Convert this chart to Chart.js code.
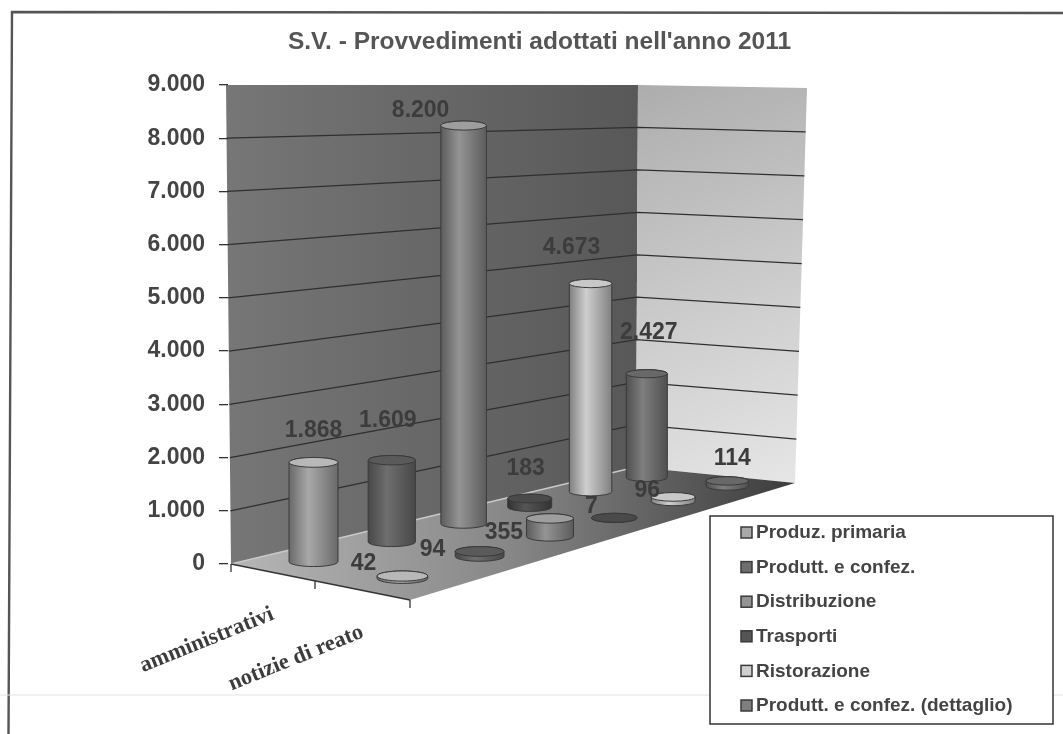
<!DOCTYPE html>
<html>
<head>
<meta charset="utf-8">
<title>S.V. - Provvedimenti adottati</title>
<script src="https://cdn.jsdelivr.net/npm/chart.js@4"></script>
<style>
  html, body { margin: 0; background: #fff; }
  canvas { display: block; filter: blur(0.7px); }
</style>
</head>
<body>
<canvas id="chart" width="1063" height="734"></canvas>
<script>
const chartTitle = "S.V. - Provvedimenti adottati nell'anno 2011";
const categories = ['amministrativi', 'notizie di reato'];
const seriesNames = ['Produz. primaria', 'Produtt. e confez.', 'Distribuzione', 'Trasporti', 'Ristorazione', 'Produtt. e confez. (dettaglio)'];
const produzPrimaria = [1868, 42];
const produttConfez = [1609, 94];
const distribuzione = [8200, 355];
const trasporti = [183, 7];
const ristorazione = [4673, 96];
const produttDettaglio = [2427, 114];
const seriesValues = [produzPrimaria, produttConfez, distribuzione, trasporti, ristorazione, produttDettaglio];

// greys of the scan: edge, light part of the side, top of the cylinder
const shades = [
  ['#6a6a6a', '#a8a8a8', '#b8b8b8'],
  ['#484848', '#6e6e6e', '#5a5a5a'],
  ['#5c5c5c', '#949494', '#9e9e9e'],
  ['#333333', '#555555', '#4a4a4a'],
  ['#808080', '#cfcfcf', '#c8c8c8'],
  ['#505050', '#7e7e7e', '#686868']
];

// where the 3D box sits on the page
const floor = { p00: [231, 564], p10: [410, 600], p11: [795, 483], p01: [636, 467] };
const wallTop = { left: [226, 85], corner: [638, 85], right: [807, 88] };
// hand placed data labels in the original, offset from top of cylinder
const labelShift = [
  [[0, -32], [-39, -12]],
  [[-4, -40], [-47, -2]],
  [[-43, -15], [-46, 14]],
  [[-4, -30], [-23, -11]],
  [[-19, -36], [-26, -6]],
  [[2, -41], [5, -22]]
];

const fmt = v => String(v).replace(/\B(?=(\d{3})+$)/g, '.');
const lerp = (a, b, t) => [a[0] + (b[0] - a[0]) * t, a[1] + (b[1] - a[1]) * t];

// unit square -> floor quad
function makeProjection(q) {
  const dx1 = q.p10[0] - q.p11[0], dx2 = q.p01[0] - q.p11[0], sx = q.p00[0] - q.p10[0] + q.p11[0] - q.p01[0];
  const dy1 = q.p10[1] - q.p11[1], dy2 = q.p01[1] - q.p11[1], sy = q.p00[1] - q.p10[1] + q.p11[1] - q.p01[1];
  const den = dx1 * dy2 - dx2 * dy1;
  const g = (sx * dy2 - dx2 * sy) / den, h = (dx1 * sy - sx * dy1) / den;
  const a = q.p10[0] - q.p00[0] + g * q.p10[0], b = q.p01[0] - q.p00[0] + h * q.p01[0];
  const d = q.p10[1] - q.p00[1] + g * q.p10[1], e = q.p01[1] - q.p00[1] + h * q.p01[1];
  return (u, v) => {
    const w = g * u + h * v + 1;
    return { x: (a * u + b * v + q.p00[0]) / w, y: (d * u + e * v + q.p00[1]) / w, w };
  };
}
const project = makeProjection(floor);

function poly(ctx, pts, fill) {
  ctx.beginPath();
  pts.forEach((p, i) => i ? ctx.lineTo(p[0], p[1]) : ctx.moveTo(p[0], p[1]));
  ctx.closePath();
  ctx.fillStyle = fill;
  ctx.fill();
}

const box3d = {
  id: 'box3d',
  beforeDraw(chart) {
    const ctx = chart.ctx, y = chart.scales.y;
    ctx.save();
    ctx.fillStyle = '#fff';
    ctx.fillRect(0, 0, chart.width, chart.height);
    // page frame, open on the right and at the bottom of the scan
    ctx.strokeStyle = '#555';
    ctx.lineWidth = 2.4;
    ctx.beginPath(); ctx.moveTo(8.5, 734); ctx.lineTo(12, 12); ctx.lineTo(1063, 13); ctx.stroke();
    // scanner streak
    ctx.strokeStyle = '#e2e2e2';
    ctx.lineWidth = 1;
    ctx.beginPath(); ctx.moveTo(0, 695); ctx.lineTo(chart.width, 695); ctx.stroke();

    let g = ctx.createLinearGradient(floor.p00[0], 0, floor.p01[0], 0);
    g.addColorStop(0, '#767676');
    g.addColorStop(1, '#585858');
    poly(ctx, [wallTop.left, wallTop.corner, floor.p01, floor.p00], g);

    g = ctx.createLinearGradient(wallTop.corner[0], wallTop.corner[1], floor.p11[0], floor.p11[1]);
    g.addColorStop(0, '#adadad');
    g.addColorStop(1, '#e6e6e6');
    poly(ctx, [wallTop.corner, wallTop.right, floor.p11, floor.p01], g);

    g = ctx.createLinearGradient(floor.p00[0], 0, floor.p11[0], 0);
    g.addColorStop(0, '#b6b6b6');
    g.addColorStop(0.5, '#868686');
    g.addColorStop(1, '#3c3c3c');
    poly(ctx, [floor.p00, floor.p10, floor.p11, floor.p01], g);

    // gridlines follow the walls, heights come from the value axis
    ctx.strokeStyle = '#2f2f2f';
    ctx.lineWidth = 1.3;
    y.ticks.forEach(t => {
      if (t.value === 0 || t.value === y.max) return;
      const f = (y.bottom - y.getPixelForValue(t.value)) / (y.bottom - y.top);
      const a = lerp(floor.p00, wallTop.left, f), b = lerp(floor.p01, wallTop.corner, f), c = lerp(floor.p11, wallTop.right, f);
      ctx.beginPath();
      ctx.moveTo(a[0], a[1]); ctx.lineTo(b[0], b[1]); ctx.lineTo(c[0], c[1]);
      ctx.stroke();
    });
    // floor edges
    ctx.strokeStyle = '#c9c9c9';
    ctx.beginPath(); ctx.moveTo(floor.p00[0], floor.p00[1]); ctx.lineTo(floor.p01[0], floor.p01[1]); ctx.stroke();
    ctx.strokeStyle = '#333';
    ctx.beginPath(); ctx.moveTo(floor.p00[0], floor.p00[1]); ctx.lineTo(floor.p10[0], floor.p10[1]); ctx.stroke();
    ctx.restore();
  },
  afterDatasetsDraw(chart) {
    const ctx = chart.ctx, y = chart.scales.y;
    const unit = (y.getPixelForValue(0) - y.getPixelForValue(1000)) / 1000;
    const nCat = categories.length, nSer = chart.data.datasets.length;
    const marks = [];
    chart.data.datasets.forEach((ds, s) => ds.data.forEach((val, c) => {
      // the scan foreshortens the depth axis less than the floor corners say
      const v = (s + 0.5) / nSer;
      const p = project((c + 0.5) / nCat, v * (1 - 0.1 * (1 - v)));
      marks.push({ s, c, val, x: p.x, y: p.y, h: val * unit * Math.pow(p.w, -0.75), r: 24.5 * Math.pow(p.w, -0.6) });
    }));
    marks.sort((a, b) => a.y - b.y);

    ctx.save();
    marks.forEach(m => {
      const sh = shades[m.s], ry = m.r * 0.2, top = m.y - m.h;
      const g = ctx.createLinearGradient(m.x - m.r, 0, m.x + m.r, 0);
      g.addColorStop(0, sh[0]);
      g.addColorStop(0.4, sh[1]);
      g.addColorStop(1, sh[0]);
      ctx.beginPath();
      ctx.moveTo(m.x - m.r, top);
      ctx.lineTo(m.x - m.r, m.y);
      ctx.ellipse(m.x, m.y, m.r, ry, 0, Math.PI, 0, true);
      ctx.lineTo(m.x + m.r, top);
      ctx.ellipse(m.x, top, m.r, ry, 0, 0, Math.PI, true);
      ctx.closePath();
      ctx.fillStyle = g;
      ctx.fill();
      ctx.strokeStyle = '#3a3a3a';
      ctx.lineWidth = 1;
      ctx.stroke();
      ctx.beginPath();
      ctx.ellipse(m.x, top, m.r, ry, 0, 0, Math.PI * 2);
      ctx.fillStyle = sh[2];
      ctx.fill();
      ctx.stroke();
    });

    // data labels
    ctx.font = 'bold 23px "Liberation Sans"';
    ctx.fillStyle = '#3c3c3c';
    ctx.textAlign = 'center';
    ctx.textBaseline = 'middle';
    marks.forEach(m => {
      const d = labelShift[m.s][m.c];
      ctx.fillText(fmt(m.val), m.x + d[0], m.y - m.h + d[1]);
    });

    // category ticks and slanted labels along the front edge
    ctx.strokeStyle = '#333';
    ctx.lineWidth = 1.3;
    for (let c = 0; c <= nCat; c++) {
      const p = project(c / nCat, 0);
      ctx.beginPath(); ctx.moveTo(p.x, p.y); ctx.lineTo(p.x, p.y + 8); ctx.stroke();
    }
    ctx.font = 'bold 22.5px "Liberation Serif"';
    ctx.fillStyle = '#3c3c3c';
    ctx.textAlign = 'center';
    chart.data.labels.forEach((label, c) => {
      const p = project((c + 0.5) / nCat, 0);
      ctx.save();
      ctx.translate(p.x - 65, p.y + 68);
      ctx.rotate(-22 * Math.PI / 180);
      ctx.fillText(label, 0, 0);
      ctx.restore();
    });

    // legend box
    const lx = 710, ly = 516, lw = 343, lh = 208;
    ctx.fillStyle = '#fff';
    ctx.fillRect(lx, ly, lw, lh);
    ctx.strokeStyle = '#333';
    ctx.lineWidth = 1.5;
    ctx.strokeRect(lx, ly, lw, lh);
    ctx.font = 'bold 19px "Liberation Sans"';
    ctx.textAlign = 'left';
    chart.data.datasets.forEach((ds, s) => {
      const rowY = ly + 17 + s * 34.6;
      ctx.fillStyle = shades[s][1];
      ctx.fillRect(741, rowY - 6, 11, 11);
      ctx.strokeStyle = '#3a3a3a';
      ctx.strokeRect(741, rowY - 6, 11, 11);
      ctx.fillStyle = '#444';
      ctx.fillText(ds.label, 756, rowY);
    });
    ctx.restore();
  }
};

new Chart(document.getElementById('chart'), {
  type: 'bar',
  data: {
    labels: categories,
    datasets: seriesNames.map((name, i) => ({
      label: name,
      data: seriesValues[i],
      backgroundColor: 'transparent',
      borderWidth: 0
    }))
  },
  options: {
    responsive: false,
    animation: false,
    layout: { autoPadding: false, padding: { top: 32, bottom: 170, left: 0, right: 212 } },
    plugins: {
      legend: { display: false },
      tooltip: { enabled: false },
      title: {
        display: true,
        text: chartTitle,
        fullSize: false,
        color: '#555',
        font: { family: '"Liberation Sans"', size: 24.5, weight: 'bold', lineHeight: '20px' },
        padding: { top: 0, bottom: 33 }
      }
    },
    scales: {
      x: { display: false },
      y: {
        min: 0,
        max: 9000,
        afterFit: s => { s.width = 228; },
        ticks: {
          stepSize: 1000,
          padding: 14,
          color: '#444',
          font: { family: '"Liberation Sans"', size: 23, weight: 'bold' },
          callback: v => fmt(v)
        },
        border: { display: false },
        grid: { drawOnChartArea: false, drawTicks: true, tickLength: 9, color: '#333', lineWidth: 1.3 }
      }
    }
  },
  plugins: [box3d]
});
</script>
</body>
</html>
